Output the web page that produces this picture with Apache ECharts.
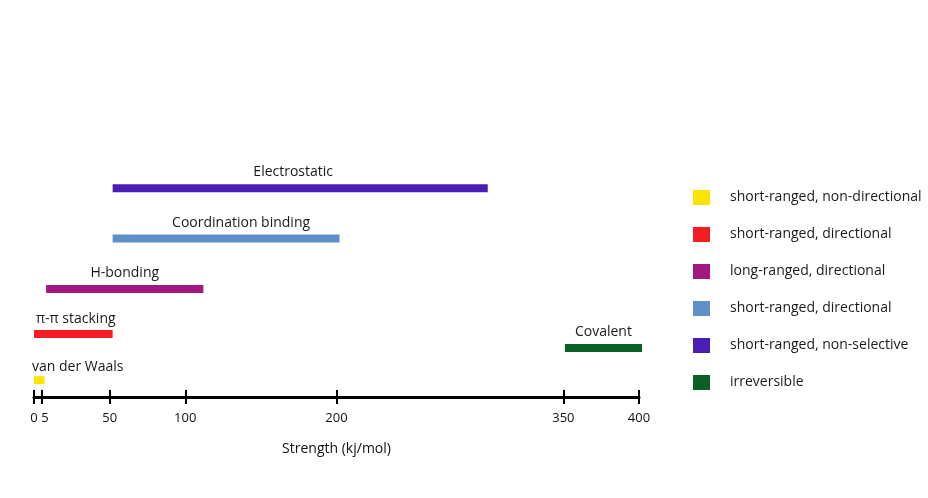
<!DOCTYPE html>
<html><head><meta charset="utf-8">
<script src="https://cdn.jsdelivr.net/npm/echarts@6/dist/echarts.min.js"></script>
<style>html,body{margin:0;padding:0;background:#fff}#c{width:928px;height:498px}</style>
</head><body><div id="c"></div>
<script>
// ---- data ----
const interactions = ['van der Waals', 'π-π stacking', 'H-bonding', 'Coordination binding', 'Electrostatic', 'Covalent'];
const rangeStart = [0, 0, 8, 52, 52, 351];       // kJ/mol
const rangeEnd   = [7, 52, 112, 202, 300, 402];  // kJ/mol
const rowLevel   = [0, 0.96, 1.9, 2.95, 4, 0.67];
const descriptions = ['short-ranged, non-directional', 'short-ranged, directional', 'long-ranged, directional',
                      'short-ranged, directional', 'short-ranged, non-selective', 'irreversible'];
const tickValues = [0, 5, 50, 100, 200, 350, 400];
const axisTitle = 'Strength (kj/mol)';

// ---- styles ----
const colors = ['#fde400', '#f31d24', '#a3187f', '#5f8fc9', '#4a1db5', '#0b5f27'];
const FONT = '"Open Sans", "Liberation Sans", sans-serif';
const labelAlign = ['left', 'left', 'center', 'center', 'center', 'center'];
const labelDx = [-2, 2, 0, 15, -7, 0];
const labelDy = [13, 15, 16, 16, 16, 16];

const chart = echarts.init(document.getElementById('c'), null, {renderer: 'canvas'});

function renderItem(params, api) {
  const i = params.seriesIndex;
  const s = api.coord([api.value(0), api.value(2)]);
  const e = api.coord([api.value(1), api.value(2)]);
  const h = 8;
  const tx = labelAlign[i] === 'left' ? s[0] + labelDx[i] : (s[0] + e[0]) / 2 + labelDx[i];
  return {
    type: 'group',
    children: [
      {type: 'rect', shape: {x: s[0], y: s[1] - h / 2, width: e[0] - s[0], height: h},
       style: {fill: api.visual('color')}},
      {type: 'text', x: tx, y: s[1] - labelDy[i],
       style: {text: interactions[i], align: labelAlign[i], verticalAlign: 'middle',
               fontSize: 14, fontFamily: FONT, fill: '#1a1a1a'}}
    ]
  };
}

const series = interactions.map((name, i) => ({
  type: 'custom',
  name: name,
  itemStyle: {color: colors[i]},
  renderItem: renderItem,
  encode: {x: [0, 1], y: 2},
  data: [[rangeStart[i], rangeEnd[i], rowLevel[i]]],
  clip: false
}));

const tickLine = {color: '#000', width: 2};

chart.setOption({
  animation: false,
  backgroundColor: '#fff',
  grid: {left: 34, right: 289, top: 171.4, bottom: 101, containLabel: false, outerBoundsMode: 'none'},
  xAxis: [
    {
      type: 'value', min: 0, max: 400, position: 'bottom', offset: 0,
      axisLine: {show: true, onZero: false, lineStyle: {color: '#000', width: 3}},
      axisTick: {show: true, customValues: tickValues, length: 7, lineStyle: tickLine},
      axisLabel: {
        customValues: tickValues, margin: 15, fontSize: 13, fontFamily: FONT, color: '#111',
        formatter: v => v === 5 ? '{r|' + v + '}' : String(v),
        rich: {r: {fontSize: 13, fontFamily: FONT, color: '#111', padding: [0, 0, 0, 7]}}
      },
      splitLine: {show: false},
      name: axisTitle, nameLocation: 'middle', nameGap: 45,
      nameTextStyle: {fontSize: 14, fontFamily: FONT, color: '#111'}
    },
    {
      type: 'value', min: 0, max: 400, position: 'bottom', offset: 0,
      axisLine: {show: false, onZero: false},
      axisTick: {show: true, inside: true, customValues: tickValues, length: 7, lineStyle: tickLine},
      axisLabel: {show: false},
      splitLine: {show: false}
    }
  ],
  yAxis: {type: 'value', min: -0.35, max: 4.35, show: false, splitLine: {show: false}},
  legend: {
    orient: 'vertical', left: 693, top: 190, padding: 0,
    icon: 'rect', itemWidth: 17, itemHeight: 15, itemGap: 22,
    data: interactions,
    selectedMode: false,
    formatter: name => '{t|' + descriptions[interactions.indexOf(name)] + '}',
    textStyle: {
      fontSize: 14, fontFamily: FONT, color: '#1a1a1a',
      rich: {t: {fontSize: 14, fontFamily: FONT, color: '#1a1a1a', padding: [0, 0, 0, 15]}}
    }
  },
  series: series
});
</script>
</body></html>
